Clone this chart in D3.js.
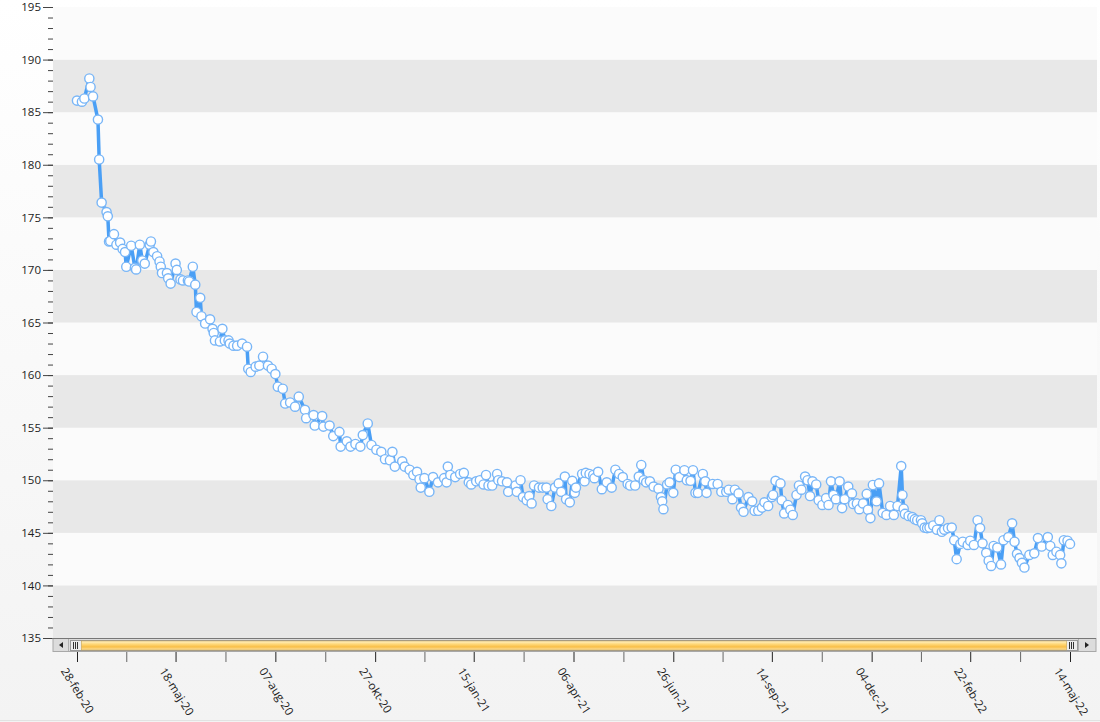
<!DOCTYPE html>
<html>
<head>
<meta charset="utf-8">
<script src="https://cdn.jsdelivr.net/npm/d3@7"></script>
<style>
html, body { margin: 0; padding: 0; background: #fff; }
svg { display: block; font-family: "Open Sans", sans-serif; }
</style>
</head>
<body>
<div id="chart"></div>
<script>
var w = 1100;
var h = 722;

// first weigh-in, day offsets below count from here
var startDate = "2020-02-28";

// x axis labels (danish months) and the dates they sit on
var tickLabels = ["28-feb-20", "18-maj-20", "07-aug-20", "27-okt-20", "15-jan-21", "06-apr-21",
                  "26-jun-21", "14-sep-21", "04-dec-21", "22-feb-22", "14-maj-22"];
var tickDates = ["2020-02-28", "2020-05-18", "2020-08-07", "2020-10-27", "2021-01-15", "2021-04-06",
                 "2021-06-26", "2021-09-14", "2021-12-04", "2022-02-22", "2022-05-14"];

var yTicks = [135, 140, 145, 150, 155, 160, 165, 170, 175, 180, 185, 190, 195];

// [days since start, kg]
var weighIns = [
  [0,186.1],[4,186.0],[6,186.3],[10,188.2],[11,187.4],[13,186.5],[17,184.3],[18,180.5],[20,176.4],[24,175.5],
  [25,175.1],[26,172.7],[27,172.75],[30,173.4],[32,172.4],[35,172.6],[37,172.0],[39,171.7],[40,170.3],[44,172.3],
  [47,170.2],[48,170.05],[51,172.4],[53,170.9],[55,170.6],[59,172.4],[60,172.7],[62,171.7],[65,171.3],[67,170.8],
  [68,170.3],[69,169.7],[73,169.7],[74,169.2],[76,168.7],[80,170.6],[81,170.0],[84,169.1],[86,169.0],[90,169.0],
  [91,168.9],[94,170.3],[96,168.6],[97,166.0],[100,167.35],[101,165.6],[104,164.9],[108,165.3],[110,164.4],[111,164.0],
  [112,163.3],[116,163.2],[118,164.4],[120,163.3],[123,163.3],[124,163.0],[127,162.8],[130,162.8],[134,163.0],[138,162.7],
  [139,160.6],[141,160.3],[145,160.8],[148,160.9],[151,161.75],[155,160.9],[158,160.6],[161,160.1],[163,158.9],[167,158.7],
  [169,157.3],[173,157.4],[177,157.0],[180,157.95],[185,156.7],[186,155.9],[192,156.2],[193,155.2],[199,156.1],[200,155.1],
  [205,155.2],[208,154.2],[213,154.6],[214,153.2],[219,153.7],[222,153.2],[226,153.45],[230,153.2],[232,154.3],[236,155.4],
  [239,153.35],[243,152.9],[247,152.7],[250,152.0],[254,151.9],[256,152.7],[258,151.3],[264,151.8],[266,151.3],[270,151.0],
  [273,150.5],[276,150.8],[278,150.1],[279,149.3],[282,150.2],[286,148.9],[289,150.3],[293,149.8],[298,150.2],[300,149.8],
  [301,151.3],[303,150.5],[307,150.3],[311,150.6],[314,150.7],[318,149.8],[320,149.6],[324,149.9],[327,150.0],[330,149.6],
  [332,150.5],[334,149.5],[337,149.5],[341,150.6],[342,150.0],[345,149.9],[349,149.8],[350,148.9],[356,149.5],[357,148.9],
  [360,150.0],[362,148.4],[365,148.1],[367,148.5],[369,147.8],[371,149.5],[375,149.3],[378,149.3],[381,149.3],[382,148.2],
  [385,147.55],[388,149.3],[391,149.7],[393,148.9],[396,150.35],[397,148.2],[400,147.9],[402,149.95],[404,148.8],[405,149.3],
  [410,150.6],[412,149.9],[413,150.7],[416,150.6],[419,150.5],[420,150.2],[423,150.8],[426,149.15],[430,149.8],[434,149.3],
  [437,151.0],[440,150.6],[443,150.3],[447,149.65],[449,149.5],[453,149.5],[456,150.35],[458,151.45],[460,150.0],[462,149.8],
  [465,149.9],[468,149.4],[472,149.2],[474,148.4],[475,148.0],[476,147.25],[479,149.6],[481,149.8],[484,148.8],[486,151.0],
  [489,150.3],[493,150.95],[495,150.0],[498,149.95],[500,150.95],[502,148.8],[504,148.8],[508,150.6],[510,149.9],[511,148.8],
  [516,149.65],[520,149.65],[523,148.9],[527,148.9],[529,149.1],[532,148.2],[534,149.1],[537,148.75],[539,147.4],[541,147.0],
  [545,148.4],[548,148.0],[550,147.1],[553,147.1],[556,147.4],[558,147.9],[561,147.55],[564,148.4],[565,148.6],[567,149.95],
  [571,149.7],[572,148.1],[574,146.85],[577,147.65],[579,147.2],[581,146.7],[584,148.6],[586,149.5],[588,149.1],[591,150.35],
  [593,150.0],[595,148.5],[597,149.9],[600,149.6],[602,148.1],[605,147.65],[608,148.3],[610,147.65],[612,149.9],[614,148.6],
  [616,148.2],[619,149.9],[621,147.35],[623,148.2],[626,149.4],[629,148.75],[630,147.75],[633,147.8],[635,147.25],[638,147.8],
  [641,148.7],[642,147.2],[644,146.4],[646,149.55],[649,148.0],[651,149.7],[654,146.9],[657,146.7],[660,147.55],[663,146.7],
  [666,147.55],[669,151.35],[670,148.6],[671,147.3],[672,146.8],[675,146.6],[678,146.5],[680,146.3],[682,146.2],[685,146.2],
  [686,145.9],[688,145.5],[690,145.45],[692,145.5],[695,145.7],[698,145.3],[700,146.2],[702,145.1],[704,145.3],[707,145.45],
  [710,145.5],[712,144.3],[714,142.5],[717,143.95],[719,144.15],[723,143.85],[725,144.25],[728,143.85],[731,146.2],[733,145.45],
  [735,144.0],[738,143.1],[740,142.35],[742,141.85],[744,143.75],[747,143.6],[750,142.0],[752,144.3],[756,144.6],[759,145.9],
  [761,144.15],[763,143.0],[765,142.6],[767,142.15],[769,141.7],[773,142.9],[777,143.05],[780,144.5],[783,143.7],[788,144.6],
  [790,143.75],[792,142.9],[795,143.2],[798,142.9],[799,142.1],[801,144.3],[804,144.25],[806,143.95]
];

var parse = d3.timeParse("%Y-%m-%d");
var t0 = parse(startDate);
var ticks = tickDates.map(parse);

// plot box (window.top is reserved, so no bare "top")
var plotLeft = 53, plotRight = 1097, plotTop = 7, plotBottom = 638;

var x = d3.scaleTime()
    .domain([ticks[0], ticks[ticks.length - 1]])
    .range([77, 1070]);

var y = d3.scaleLinear()
    .domain([135, 195])
    .range([plotBottom, plotTop]);

var svg = d3.select("#chart").append("svg")
    .attr("width", w)
    .attr("height", h);

var defs = svg.append("defs");
var bg = defs.append("linearGradient").attr("id", "bg").attr("x1", 0).attr("y1", 0).attr("x2", 0).attr("y2", 1);
bg.append("stop").attr("offset", "0%").attr("stop-color", "#ffffff");
bg.append("stop").attr("offset", "100%").attr("stop-color", "#f3f3f3");

var thumb = defs.append("linearGradient").attr("id", "thumb").attr("x1", 0).attr("y1", 0).attr("x2", 0).attr("y2", 1);
thumb.append("stop").attr("offset", "0%").attr("stop-color", "#fff4cc");
thumb.append("stop").attr("offset", "35%").attr("stop-color", "#ffd878");
thumb.append("stop").attr("offset", "65%").attr("stop-color", "#f9bf48");
thumb.append("stop").attr("offset", "100%").attr("stop-color", "#fde3a0");

svg.append("rect").attr("width", w).attr("height", h).attr("fill", "url(#bg)");
svg.append("line").attr("x1", 0).attr("x2", w).attr("y1", h - 1.5).attr("y2", h - 1.5)
    .attr("stroke", "#e2e2e2");

// alternating bands, every 5 kg
var bands = d3.range(135, 195, 5);
svg.append("g").selectAll("rect")
    .data(bands)
    .join("rect")
    .attr("x", plotLeft)
    .attr("width", plotRight - plotLeft)
    .attr("y", d => y(d + 5))
    .attr("height", d => y(d) - y(d + 5))
    .attr("fill", d => ((d - 135) / 5) % 2 === 0 ? "#e8e8e8" : "#fbfbfb");

// y axis: minor every 1, major every 5
var yMinor = svg.append("g")
    .attr("transform", `translate(${plotLeft},0)`)
    .call(d3.axisLeft(y).tickValues(d3.range(135, 196, 1)).tickSize(5).tickFormat(""));
yMinor.select(".domain").remove();
yMinor.selectAll("line").attr("stroke", "#444");

var yAxis = svg.append("g")
    .attr("transform", `translate(${plotLeft},0)`)
    .call(d3.axisLeft(y).tickValues(yTicks).tickSize(10).tickPadding(2));
yAxis.select(".domain").remove();
yAxis.selectAll("line").attr("stroke", "#444");
yAxis.selectAll("text")
    .attr("fill", "#222")
    .style("font-size", "11.5px")
    .style("font-family", "'Open Sans', sans-serif");

// weight line + markers
var line = d3.line()
    .x(d => x(d3.timeDay.offset(t0, d[0])))
    .y(d => y(d[1]));

svg.append("path")
    .datum(weighIns)
    .attr("d", line)
    .attr("fill", "none")
    .attr("stroke", "#4a9ff5")
    .attr("stroke-width", 3.5)
    .attr("stroke-linejoin", "round");

svg.append("g").selectAll("circle")
    .data(weighIns)
    .join("circle")
    .attr("cx", d => x(d3.timeDay.offset(t0, d[0])))
    .attr("cy", d => y(d[1]))
    .attr("r", 4.6)
    .attr("fill", "#fff")
    .attr("stroke", "#79b6f7")
    .attr("stroke-width", 1.4);

// scrollbar under the plot
var sb = svg.append("g");
sb.append("rect").attr("x", plotLeft).attr("y", 638.5).attr("width", plotRight - plotLeft - 1).attr("height", 13)
    .attr("fill", "#dcdcdc").attr("stroke", "#a8a8a8");
sb.append("line").attr("x1", plotLeft).attr("x2", plotRight - 1).attr("y1", 638.5).attr("y2", 638.5).attr("stroke", "#777");
sb.append("line").attr("x1", 68.5).attr("x2", 68.5).attr("y1", 639).attr("y2", 651).attr("stroke", "#b0b0b0");
sb.append("line").attr("x1", 1078.5).attr("x2", 1078.5).attr("y1", 639).attr("y2", 651).attr("stroke", "#b0b0b0");
sb.append("path").attr("d", "M59,645 L63,642 L63,648 Z").attr("fill", "#222");
sb.append("path").attr("d", "M1089,645 L1085,642 L1085,648 Z").attr("fill", "#222");
sb.append("rect").attr("x", 70.5).attr("y", 640.5).attr("width", 1007).attr("height", 10)
    .attr("fill", "#ececec").attr("stroke", "#999");
sb.append("rect").attr("x", 81.5).attr("y", 641).attr("width", 985).attr("height", 9)
    .attr("fill", "url(#thumb)").attr("stroke", "#c9a24a").attr("stroke-width", 0.6);
[73.5, 75.5, 77.5, 1069.5, 1071.5, 1073.5].forEach(function(gx) {
    sb.append("line").attr("x1", gx).attr("x2", gx).attr("y1", 642).attr("y2", 649).attr("stroke", "#333");
});

// x axis: labelled ticks plus an unlabelled one between each pair
var xMinor = [];
for (var i = 0; i < ticks.length - 1; i++) {
    xMinor.push(new Date((ticks[i].getTime() + ticks[i + 1].getTime()) / 2));
}

var xMinorAxis = svg.append("g")
    .attr("transform", "translate(0,652)")
    .call(d3.axisBottom(x).tickValues(xMinor).tickSize(10).tickFormat(""));
xMinorAxis.select(".domain").remove();
xMinorAxis.selectAll("line").attr("stroke", "#666");

var xAxis = svg.append("g")
    .attr("transform", "translate(0,652)")
    .call(d3.axisBottom(x).tickValues(ticks).tickSize(10).tickFormat((d, i) => tickLabels[i]));
xAxis.select(".domain").remove();
xAxis.selectAll("line").attr("stroke", "#222");
xAxis.selectAll("text")
    .attr("x", 0)
    .attr("y", 0)
    .attr("dy", 0)
    .attr("transform", "translate(-17,19) rotate(58)")
    .style("text-anchor", "start")
    .style("font-size", "11.5px")
    .style("font-family", "'Open Sans', sans-serif")
    .attr("fill", "#222");
</script>
</body>
</html>
